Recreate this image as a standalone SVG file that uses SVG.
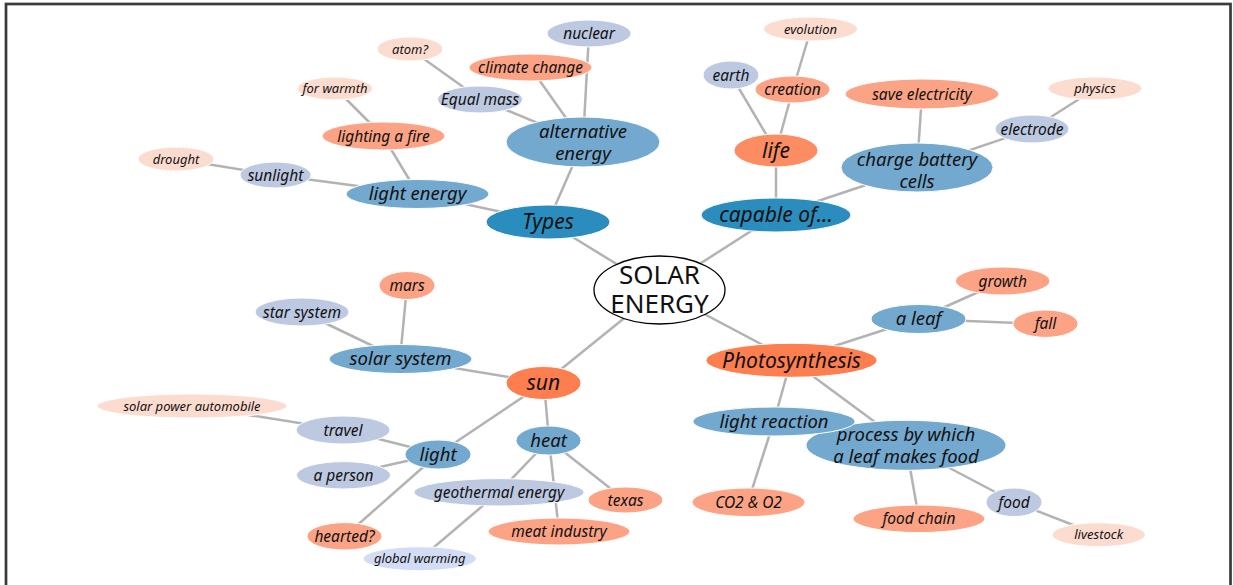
<svg xmlns="http://www.w3.org/2000/svg" width="1233" height="585" viewBox="0 0 1233 585">
<style>
.frame{fill:#fff;stroke:#3a3a3a;stroke-width:2.7}
.e line{stroke:#b3b3b3;stroke-width:2.5}
ellipse{stroke:#fff;stroke-width:1}
.n0{fill:#fff;stroke:#000;stroke-width:1.3}
.n1{fill:#2b8cbe}
.n1o{fill:#fd7e4f}
.nlife{fill:#fc8d62}
.n2{fill:#74a9cf}
.n3b{fill:#bdc9e1}
.n3o{fill:#fca385}
.n4{fill:#fddcd0}
.n4b{fill:#d2ddf5}
text{font-family:"Noto Sans","DejaVu Sans",sans-serif;font-style:italic;fill:#111;text-anchor:middle}
.t0{font-size:26px;font-style:normal}
.t1{font-size:21px}
.t2{font-size:18.5px}
.t3{font-size:15.5px}
.t4{font-size:13px}
</style>
<rect class="frame" x="6" y="4" width="1224.5" height="620"/>
<g id="connectors" class="e">
<line x1="659" y1="290" x2="548" y2="222"/>
<line x1="659" y1="290" x2="776" y2="215"/>
<line x1="659" y1="290" x2="544" y2="383"/>
<line x1="659" y1="290" x2="791" y2="360"/>
<line x1="548" y1="222" x2="418" y2="194"/>
<line x1="548" y1="222" x2="583" y2="142"/>
<line x1="418" y1="194" x2="275" y2="175"/>
<line x1="418" y1="194" x2="383" y2="136"/>
<line x1="275" y1="175" x2="176" y2="159"/>
<line x1="383" y1="136" x2="335" y2="88"/>
<line x1="583" y1="142" x2="480" y2="99"/>
<line x1="583" y1="142" x2="530" y2="67"/>
<line x1="583" y1="142" x2="589" y2="33"/>
<line x1="480" y1="99" x2="410" y2="49"/>
<line x1="776" y1="215" x2="776" y2="151"/>
<line x1="776" y1="215" x2="917" y2="168"/>
<line x1="776" y1="151" x2="731" y2="75"/>
<line x1="776" y1="151" x2="793" y2="89"/>
<line x1="793" y1="89" x2="811" y2="29"/>
<line x1="917" y1="168" x2="922" y2="94"/>
<line x1="917" y1="168" x2="1032" y2="129"/>
<line x1="1032" y1="129" x2="1095" y2="89"/>
<line x1="544" y1="383" x2="400" y2="359"/>
<line x1="544" y1="383" x2="438" y2="454"/>
<line x1="544" y1="383" x2="549" y2="440"/>
<line x1="400" y1="359" x2="302" y2="312"/>
<line x1="400" y1="359" x2="407" y2="286"/>
<line x1="438" y1="454" x2="343" y2="430"/>
<line x1="438" y1="454" x2="344" y2="475"/>
<line x1="438" y1="454" x2="345" y2="536"/>
<line x1="343" y1="430" x2="192" y2="406"/>
<line x1="549" y1="440" x2="499" y2="492"/>
<line x1="549" y1="440" x2="559" y2="532"/>
<line x1="549" y1="440" x2="625" y2="500"/>
<line x1="499" y1="492" x2="420" y2="559"/>
<line x1="791" y1="360" x2="918" y2="319"/>
<line x1="791" y1="360" x2="774" y2="421"/>
<line x1="791" y1="360" x2="906" y2="445"/>
<line x1="918" y1="319" x2="1003" y2="281"/>
<line x1="918" y1="319" x2="1045" y2="324"/>
<line x1="774" y1="421" x2="748" y2="502"/>
<line x1="906" y1="445" x2="919" y2="519"/>
<line x1="906" y1="445" x2="1014" y2="502"/>
<line x1="1014" y1="502" x2="1099" y2="535"/>
</g>
<g id="n-solar-energy"><ellipse class="n0" cx="659.5" cy="290" rx="65.5" ry="34"/><text class="t0" x="659.5" y="284">SOLAR<tspan x="659.5" dy="29">ENERGY</tspan></text></g>
<g id="n-types"><ellipse class="n1" cx="548" cy="222" rx="62" ry="17"/><text class="t1" x="548" y="229">Types</text></g>
<g id="n-capable"><ellipse class="n1" cx="776" cy="215" rx="75" ry="17"/><text class="t1" x="776" y="222">capable of...</text></g>
<g id="n-sun"><ellipse class="n1o" cx="543.5" cy="383" rx="37.5" ry="16.5"/><text class="t1" x="543.5" y="390">sun</text></g>
<g id="n-photosynthesis"><ellipse class="n1o" cx="791.5" cy="360.3" rx="85.5" ry="17"/><text class="t1" x="791.5" y="367.5">Photosynthesis</text></g>
<g id="n-alternative-energy"><ellipse class="n2" cx="583" cy="142" rx="77" ry="25"/><text class="t2" x="583" y="138">alternative<tspan x="583" dy="22">energy</tspan></text></g>
<g id="n-light-energy"><ellipse class="n2" cx="417.5" cy="194" rx="71.5" ry="14.5"/><text class="t2" x="417.5" y="200">light energy</text></g>
<g id="n-life"><ellipse class="nlife" cx="776" cy="150.5" rx="42" ry="16.5"/><text class="t1" x="776" y="158">life</text></g>
<g id="n-charge-battery"><ellipse class="n2" cx="917" cy="167.5" rx="76" ry="24.5"/><text class="t2" x="917" y="166">charge battery<tspan x="917" dy="21.5">cells</tspan></text></g>
<g id="n-solar-system"><ellipse class="n2" cx="400.5" cy="359" rx="71.5" ry="14.5"/><text class="t2" x="400.5" y="365">solar system</text></g>
<g id="n-light"><ellipse class="n2" cx="438" cy="454.5" rx="33" ry="14.5"/><text class="t2" x="438" y="460.5">light</text></g>
<g id="n-heat"><ellipse class="n2" cx="548.5" cy="440.5" rx="32.5" ry="14.5"/><text class="t2" x="548.5" y="446.5">heat</text></g>
<g id="n-a-leaf"><ellipse class="n2" cx="918.5" cy="319" rx="47.5" ry="14.5"/><text class="t2" x="918.5" y="325">a leaf</text></g>
<g id="n-process"><ellipse class="n2" cx="906" cy="445.3" rx="100" ry="25"/><text class="t2" x="906" y="440.5">process by which<tspan x="906" dy="22">a leaf makes food</tspan></text></g>
<g id="n-light-reaction"><ellipse class="n2" cx="774" cy="421.5" rx="81" ry="14.5"/><text class="t2" x="774" y="427.5">light reaction</text></g>
<g id="n-nuclear"><ellipse class="n3b" cx="589" cy="33.5" rx="42" ry="13.5"/><text class="t3" x="589" y="39">nuclear</text></g>
<g id="n-climate-change"><ellipse class="n3o" cx="530.5" cy="67.5" rx="61.5" ry="13.5"/><text class="t3" x="530.5" y="73">climate change</text></g>
<g id="n-equal-mass"><ellipse class="n3b" cx="480" cy="99.5" rx="42.5" ry="13.5"/><text class="t3" x="480" y="105">Equal mass</text></g>
<g id="n-atom"><ellipse class="n4" cx="410" cy="49" rx="33" ry="12"/><text class="t4" x="410" y="53.5">atom?</text></g>
<g id="n-lighting-fire"><ellipse class="n3o" cx="383.5" cy="136" rx="61.5" ry="14"/><text class="t3" x="383.5" y="141.5">lighting a fire</text></g>
<g id="n-for-warmth"><ellipse class="n4" cx="335" cy="88.5" rx="37.5" ry="11.5"/><text class="t4" x="335" y="93">for warmth</text></g>
<g id="n-sunlight"><ellipse class="n3b" cx="275.5" cy="175" rx="35.5" ry="13"/><text class="t3" x="275.5" y="180.5">sunlight</text></g>
<g id="n-drought"><ellipse class="n4" cx="176" cy="159" rx="38" ry="12"/><text class="t4" x="176" y="163.5">drought</text></g>
<g id="n-evolution"><ellipse class="n4" cx="810.5" cy="29" rx="47" ry="12"/><text class="t4" x="810.5" y="33.5">evolution</text></g>
<g id="n-earth"><ellipse class="n3b" cx="731" cy="75" rx="28" ry="14"/><text class="t3" x="731" y="80.5">earth</text></g>
<g id="n-creation"><ellipse class="n3o" cx="792.5" cy="89.5" rx="37.5" ry="13.5"/><text class="t3" x="792.5" y="95">creation</text></g>
<g id="n-save-electricity"><ellipse class="n3o" cx="922" cy="94" rx="77" ry="15"/><text class="t3" x="922" y="99.5">save electricity</text></g>
<g id="n-electrode"><ellipse class="n3b" cx="1032" cy="129" rx="37" ry="14"/><text class="t3" x="1032" y="134.5">electrode</text></g>
<g id="n-physics"><ellipse class="n4" cx="1095" cy="88.5" rx="47" ry="11.5"/><text class="t4" x="1095" y="93">physics</text></g>
<g id="n-mars"><ellipse class="n3o" cx="407" cy="285.5" rx="28" ry="14"/><text class="t3" x="407" y="291">mars</text></g>
<g id="n-star-system"><ellipse class="n3b" cx="302" cy="312" rx="47" ry="14"/><text class="t3" x="302" y="317.5">star system</text></g>
<g id="n-solar-power-automobile"><ellipse class="n4" cx="192" cy="406" rx="95" ry="12"/><text class="t4" x="192" y="410.5">solar power automobile</text></g>
<g id="n-travel"><ellipse class="n3b" cx="343" cy="430" rx="47" ry="14"/><text class="t3" x="343" y="435.5">travel</text></g>
<g id="n-a-person"><ellipse class="n3b" cx="343.5" cy="475.3" rx="47" ry="13.7"/><text class="t3" x="343.5" y="480.8">a person</text></g>
<g id="n-hearted"><ellipse class="n3o" cx="344.5" cy="536.3" rx="37.5" ry="13.7"/><text class="t3" x="344.5" y="541.8">hearted?</text></g>
<g id="n-geothermal"><ellipse class="n3b" cx="499" cy="492.3" rx="85" ry="13.7"/><text class="t3" x="499" y="497.8">geothermal energy</text></g>
<g id="n-global-warming"><ellipse class="n4b" cx="419.7" cy="558.7" rx="56.7" ry="12"/><text class="t4" x="419.7" y="563.2">global warming</text></g>
<g id="n-texas"><ellipse class="n3o" cx="625.5" cy="500" rx="37.5" ry="13"/><text class="t3" x="625.5" y="505.5">texas</text></g>
<g id="n-meat-industry"><ellipse class="n3o" cx="559" cy="531.5" rx="71" ry="13.5"/><text class="t3" x="559" y="537">meat industry</text></g>
<g id="n-growth"><ellipse class="n3o" cx="1002.7" cy="281" rx="47.3" ry="14"/><text class="t3" x="1002.7" y="286.5">growth</text></g>
<g id="n-fall"><ellipse class="n3o" cx="1045.5" cy="323.7" rx="32.6" ry="13.7"/><text class="t3" x="1045.5" y="329.2">fall</text></g>
<g id="n-co2-o2"><ellipse class="n3o" cx="748.5" cy="502.3" rx="56.5" ry="14.3"/><text class="t3" x="748.5" y="507.8">CO2 &amp; O2</text></g>
<g id="n-food"><ellipse class="n3b" cx="1014" cy="502.3" rx="28" ry="14.3"/><text class="t3" x="1014" y="507.8">food</text></g>
<g id="n-food-chain"><ellipse class="n3o" cx="919" cy="518.8" rx="66" ry="13.8"/><text class="t3" x="919" y="524.3">food chain</text></g>
<g id="n-livestock"><ellipse class="n4" cx="1098.7" cy="534.7" rx="46.7" ry="12"/><text class="t4" x="1098.7" y="539.2">livestock</text></g>
</svg>
